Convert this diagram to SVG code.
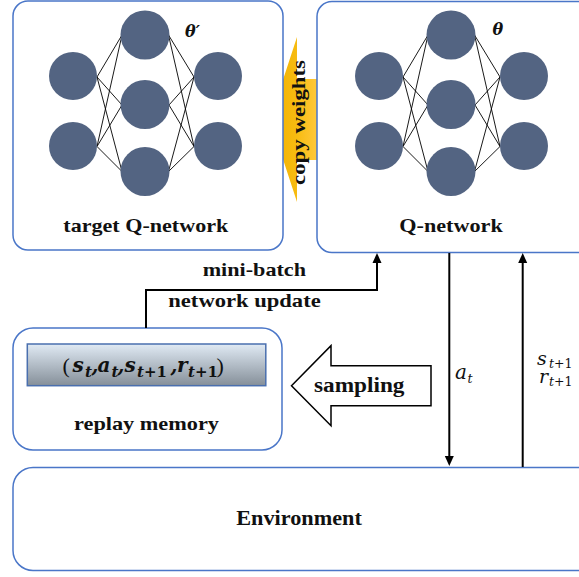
<svg xmlns="http://www.w3.org/2000/svg" width="579" height="577" viewBox="0 0 579 577">
<style>
.box{fill:#fff;stroke:#4a76c8;stroke-width:1.5}
.neuron{fill:#536482}
.syn{stroke:#000;stroke-width:0.9;fill:none}
.lbl{font-family:"Liberation Serif",serif;font-weight:bold;fill:#111}
.math{font-family:"DejaVu Serif",serif;font-style:italic;fill:#111}
.conn{stroke:#000;stroke-width:2;fill:none}
</style>
<defs>
<marker id="arr" markerUnits="userSpaceOnUse" markerWidth="10" markerHeight="10" refX="2" refY="5" orient="auto">
<path d="M0,0.5 L10,5 L0,9.5 z" fill="#000"/>
</marker>
<linearGradient id="yel" x1="270" y1="0" x2="317" y2="0" gradientUnits="userSpaceOnUse">
<stop offset="0" stop-color="#f0b000"/>
<stop offset="0.55" stop-color="#f7bb10"/>
<stop offset="1" stop-color="#ffc83a"/>
</linearGradient>
<linearGradient id="mem" x1="0" y1="0" x2="0" y2="1">
<stop offset="0" stop-color="#e0eaf4"/>
<stop offset="1" stop-color="#858f99"/>
</linearGradient>
<g id="net">
<g class="syn">
<path d="M97,77 L122,35 M97,77 L122,105 M97,77 L122,171.5 M97,146.5 L122,35 M97,146.5 L122,105 M97,146.5 L122,171.5"/>
<path d="M168.5,35 L194,77 M168.5,35 L194,146.5 M169,105 L194,77 M169,105 L194,146.5 M168.5,171.5 L194,77 M168.5,171.5 L194,146.5"/>
</g>
<circle class="neuron" cx="73" cy="76" r="24"/>
<circle class="neuron" cx="73" cy="146" r="24"/>
<circle class="neuron" cx="145" cy="35" r="24.5"/>
<circle class="neuron" cx="145" cy="104.5" r="24.5"/>
<circle class="neuron" cx="145" cy="171.5" r="24.5"/>
<circle class="neuron" cx="218" cy="76" r="24"/>
<circle class="neuron" cx="218" cy="146" r="24"/>
</g>
</defs>

<g id="copy-weights">
<polygon points="270,119.5 297,37 297,79 318,79 318,160 297,160 297,202" fill="url(#yel)"/>
</g>

<g id="target-q-network">
<rect class="box" x="13" y="1" width="270" height="249" rx="15"/>
<use href="#net"/>
<text class="math" x="185" y="36.5" font-size="16" font-weight="bold">θ′</text>
<text class="lbl" x="63.3" y="232" font-size="19" textLength="165" lengthAdjust="spacingAndGlyphs">target Q-network</text>
</g>

<g id="q-network">
<rect class="box" x="317" y="1.5" width="280" height="251" rx="15"/>
<use href="#net" transform="translate(306,0)"/>
<text class="math" x="492.5" y="35" font-size="16" font-weight="bold">θ</text>
<text class="lbl" x="399.3" y="232" font-size="19" textLength="103.5" lengthAdjust="spacingAndGlyphs">Q-network</text>
</g>

<text class="lbl" font-size="18" transform="translate(304.5,185) rotate(-90)" textLength="125" lengthAdjust="spacingAndGlyphs">copy weights</text>

<g id="replay-memory">
<rect class="box" x="13" y="328" width="269" height="122" rx="20"/>
<rect x="27.3" y="344" width="238.5" height="41.7" fill="url(#mem)" stroke="#4a6fae" stroke-width="1.5"/>
<text class="math" font-size="20" font-weight="bold"><tspan x="62.5" y="373" font-style="normal" font-weight="normal" font-family="Liberation Serif, serif" font-size="22">(</tspan><tspan x="72.5" y="372">s</tspan><tspan x="85" y="376.5" font-size="15">t</tspan><tspan x="91.5" y="372">,</tspan><tspan x="97.5" y="372">a</tspan><tspan x="111.5" y="376.5" font-size="15">t</tspan><tspan x="117.5" y="372">,</tspan><tspan x="124.5" y="372">s</tspan><tspan x="137" y="376.5" font-size="15">t<tspan font-style="normal">+1</tspan></tspan><tspan x="170.5" y="372">,</tspan><tspan x="177" y="372">r</tspan><tspan x="188" y="376.5" font-size="15">t<tspan font-style="normal">+1</tspan></tspan><tspan x="216.5" y="373" font-style="normal" font-weight="normal" font-family="Liberation Serif, serif" font-size="22">)</tspan></text>
<text class="lbl" x="74" y="430" font-size="19" textLength="145" lengthAdjust="spacingAndGlyphs">replay memory</text>
</g>

<g id="sampling">
<polygon points="291.5,385.7 331,345.7 331,365.7 431,365.7 431,405.7 331,405.7 331,425.7" fill="#fff" stroke="#000" stroke-width="1.5"/>
<text class="lbl" x="314" y="391.5" font-size="20" textLength="90.5" lengthAdjust="spacingAndGlyphs">sampling</text>
</g>

<g id="environment">
<rect class="box" x="13" y="467.5" width="585" height="103" rx="20"/>
<text class="lbl" x="236.3" y="525" font-size="20" textLength="125.5" lengthAdjust="spacingAndGlyphs">Environment</text>
</g>

<g id="connectors">
<path class="conn" d="M146,328 V290 H377 V261" marker-end="url(#arr)"/>
<path class="conn" d="M449.3,253 V458" marker-end="url(#arr)"/>
<path class="conn" d="M522.7,467 V261" marker-end="url(#arr)"/>
</g>

<g id="connector-labels">
<text class="lbl" x="202.7" y="276" font-size="19" textLength="103.3" lengthAdjust="spacingAndGlyphs">mini-batch</text>
<text class="lbl" x="168.3" y="306.5" font-size="19" textLength="152.4" lengthAdjust="spacingAndGlyphs">network update</text>
<text class="math" font-size="20"><tspan x="455" y="379">a</tspan><tspan x="467.5" y="382.5" font-size="12.5">t</tspan></text>
<text class="math" font-size="19"><tspan x="537" y="365">s</tspan><tspan x="549" y="368" font-size="12.5">t<tspan font-style="normal">+1</tspan></tspan><tspan x="539" y="382.7">r</tspan><tspan x="549" y="386" font-size="12.5">t<tspan font-style="normal">+1</tspan></tspan></text>
</g>
</svg>
